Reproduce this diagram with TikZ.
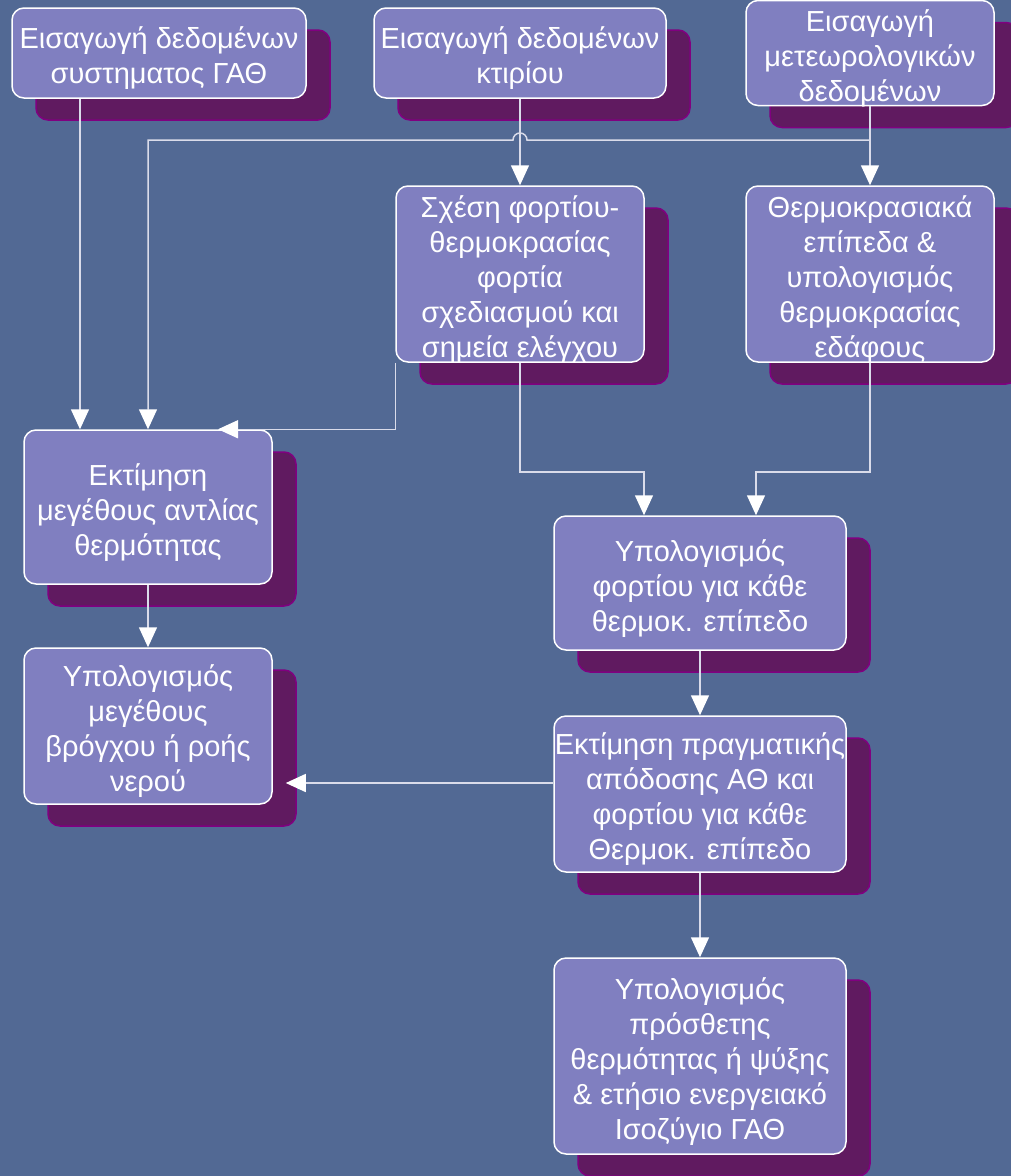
\documentclass[tikz,border=0pt]{standalone}
\usepackage{fontspec}
\setmainfont{Liberation Sans}
\usepackage{xcolor}
\definecolor{FlowBg}{RGB}{82,105,148}
\definecolor{FlowBox}{RGB}{128,127,192}
\definecolor{FlowShade}{RGB}{96,26,96}
\definecolor{FlowShadeEdge}{RGB}{128,0,128}
\definecolor{FlowLine}{RGB}{218,220,234}
\usepackage{tikz}
\usetikzlibrary{calc, positioning, arrows.meta, shadows}
\newcommand{\boxlines}[1]{\raisebox{-6pt}[\height][\depth]{\begin{tabular}{@{}c@{}}#1\end{tabular}}}

\begin{document}
\begin{tikzpicture}[
    x=1pt, y=1pt,
    >={Triangle[width=18pt, length=20pt, color=white]},
    font=\fontsize{29}{35}\selectfont,
    stepbox/.style={draw=white, line width=1.5pt, fill=FlowBox, rounded corners=12pt,
        text=white, inner sep=0pt,
        drop shadow={shadow xshift=24pt, shadow yshift=-22pt, opacity=1,
            fill=FlowShade, draw=FlowShadeEdge, line width=1.5pt, rounded corners=12pt}},
    widebox/.style={stepbox, minimum width=292pt},
    slimbox/.style={stepbox, minimum width=248pt},
    flow/.style={->, FlowLine, line width=1.5pt}
]

    % 0. CANVAS
    \fill[FlowBg] (0,0) rectangle (1011,-1176);
    \useasboundingbox (0,0) rectangle (1011,-1176);

    % 1. INPUT ROW
    \node[widebox, minimum width=294pt, minimum height=90pt] (sysin) at (159,-53) {\boxlines{Εισαγωγή δεδομένων\\συστηματος ΓΑΘ}};
    \node[widebox, minimum height=90pt] (building) at (520,-53) {\boxlines{Εισαγωγή δεδομένων\\κτιρίου}};
    \node[slimbox, minimum height=90pt] (meteo) at (870,-53) {\boxlines{Εισαγωγή\\μετεωρολογικών\\δεδομένων}};

    % 2. SECOND ROW
    \node[slimbox, minimum height=176pt] (loadtemp) at (520,-274) {\boxlines{Σχέση φορτίου-\\θερμοκρασίας\\φορτία\\σχεδιασμού και\\σημεία ελέγχου}};
    \node[slimbox, minimum height=176pt] (ground) at (870,-274) {\boxlines{Θερμοκρασιακά\\επίπεδα \&\\υπολογισμός\\θερμοκρασίας\\εδάφους}};

    % 3. LEFT BRANCH
    \node[slimbox, minimum height=154pt] (hpsize) at (148,-507) {\boxlines{Εκτίμηση\\μεγέθους αντλίας\\θερμότητας}};
    \node[slimbox, minimum height=156pt] (loopsize) at (148,-726) {\boxlines{Υπολογισμός\\μεγέθους\\βρόγχου ή ροής\\νερού}};

    % 4. RIGHT BRANCH
    \node[widebox, minimum height=134pt] (loadcalc) at (700,-583) {\boxlines{Υπολογισμός\\φορτίου για κάθε\\θερμοκ. επίπεδο}};
    \node[widebox, minimum height=156pt] (perf) at (700,-794) {\boxlines{Εκτίμηση πραγματικής\\απόδοσης ΑΘ και\\φορτίου για κάθε\\Θερμοκ. επίπεδο}};
    \node[widebox, minimum height=196pt] (extra) at (700,-1056) {\boxlines{Υπολογισμός\\πρόσθετης\\θερμότητας ή ψύξης\\\& ετήσιο ενεργειακό\\Ισοζύγιο ΓΑΘ}};

    % 5. CONNECTORS
    \coordinate (busy) at (0,-140);
    \coordinate (midy) at (0,-472);

    \draw[flow] ([xshift=-79pt]sysin.south) -- ([xshift=-68pt]hpsize.north);
    \draw[flow] (building) -- (loadtemp);
    \draw[flow] (meteo) -- (ground);
    \draw[flow] (meteo.south |- busy) -- ($(building.south |- busy)+(7,0)$)
        arc[start angle=0, end angle=180, radius=7] -- (hpsize.north |- busy) -- (hpsize.north);
    \draw[flow] (loadtemp.south west) |- ([xshift=70pt]hpsize.north);
    \draw[flow] (loadtemp.south) -- (loadtemp.south |- midy) -| ([xshift=-56pt]loadcalc.north);
    \draw[flow] (ground.south) -- (ground.south |- midy) -| ([xshift=56pt]loadcalc.north);
    \draw[flow] (hpsize) -- (loopsize);
    \draw[flow] (loadcalc) -- (perf);
    \draw[flow] ([yshift=11pt]perf.west) -- ($(perf.west -| loopsize.east)+(13,11)$);
    \draw[flow] (perf) -- (extra);

\end{tikzpicture}
\end{document}
